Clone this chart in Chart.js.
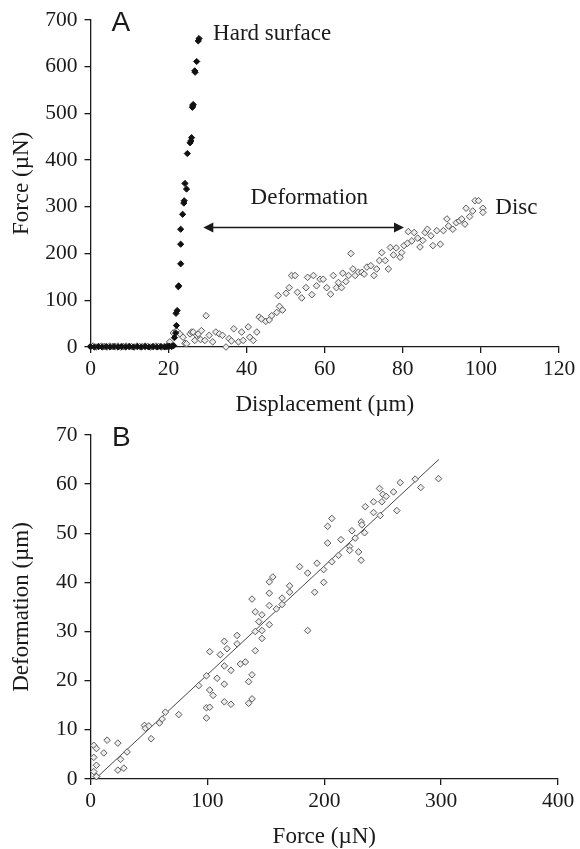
<!DOCTYPE html>
<html>
<head>
<meta charset="utf-8">
<script src="https://cdn.jsdelivr.net/npm/chart.js@4.4.0/dist/chart.umd.min.js"></script>
<style>
    html, body { margin: 0; padding: 0; background: #fff; width: 580px; height: 849px; overflow: hidden; }
    canvas { position: absolute; left: 0; }
    #chart-a { top: 0; }
    #chart-b { top: 415px; }
</style>
</head>
<body>
<canvas id="chart-a" width="580" height="422"></canvas>
<canvas id="chart-b" width="580" height="436"></canvas>
<script>
// Panel A - hard surface (filled) vs disc (hollow), displacement in um / force in uN
const hardX = [0, 1, 2, 3, 4, 5, 6, 7, 8, 9, 10, 11, 12, 13, 14, 15, 16, 17, 18, 19, 19.6, 20.2, 20.8, 21.3,
    21.5, 21.8, 22.0, 21.9, 22.2, 22.5, 22.6, 23.1, 23.1, 23.1, 23.6, 23.9, 24.0, 24.6, 24.2, 24.8,
    25.5, 25.7, 25.9, 26.1, 26.2, 26.3, 26.7, 26.8, 27.2, 27.6, 27.8];
const hardY = [1, 0, 1, 0, 1, 0, 1, 0, 1, 0, 1, 0, 1, 0, 1, 0, 1, 0, 1, 0, 1, 2, 1, 3,
    20, 30, 46, 72, 78, 129, 131, 178, 220, 252, 284, 308, 313, 338, 350, 414,
    437, 441, 448, 513, 516, 519, 591, 588, 611, 655, 660];

const discX = [0, 0.7, 1.4, 2.1, 2.8, 3.5, 4.2, 4.9, 5.6, 6.3, 7.0, 7.7, 8.4, 9.1, 9.8, 10.5, 11.2, 11.9,
    12.6, 13.3, 14.0, 14.7, 15.4, 16.1, 16.8, 17.5, 18.2, 18.9, 19.6,
    20.3, 21.2, 22.0, 22.9, 23.7, 24.2, 24.6, 25.5, 25.9, 26.3, 26.7, 27.2, 27.6, 28.2, 28.4, 29.3,
    29.6, 30.4, 31.3, 32.1, 33.0, 33.8, 34.7, 35.5, 36.1, 36.7, 37.9, 38.7, 39.1, 40.4, 40.8, 41.7,
    42.6, 43.2, 43.8, 44.9, 45.8, 46.4, 47.7, 48.1, 48.4, 49.2, 50.1, 50.9, 51.5, 52.4, 53.0, 54.1,
    55.2, 55.6, 56.7, 57.1, 57.9, 58.8, 59.6, 60.5, 61.5, 62.2, 63.0, 63.5, 64.3, 64.6, 65.4, 66.1,
    66.7, 67.2, 67.8, 68.6, 69.5, 70.1, 70.8, 71.8, 72.6, 73.3, 74.0, 74.6, 75.5, 76.3, 76.8, 77.6,
    78.3, 79.3, 79.7, 80.3, 81.2, 81.4, 82.3, 82.9, 83.8, 84.4, 85.1, 85.7, 86.3, 87.2, 87.7, 88.7,
    89.6, 90.4, 91.3, 91.7, 92.8, 93.7, 94.5, 95.1, 95.9, 96.2, 97.1, 97.9, 98.5, 99.4, 100.5, 100.5];
const discY = [1, 2, 0, 1, 2, 1, 0, 2, 1, 1, 2, 0, 1, 2, 1, 1, 0, 2, 1, 1, 2, 1, 0, 1, 2, 1, 0, 1, 2,
    11, 30, 35, 28, 21, 8, 7, 28, 32, 32, 14, 25, 28, 16, 35, 14,
    67, 25, 11, 32, 28, 25, 0, 18, 13, 39, 11, 32, 14, 43, 21, 14,
    32, 64, 60, 55, 58, 67, 74, 110, 87, 79, 115, 127, 153, 153, 117, 105,
    127, 149, 112, 153, 131, 145, 145, 127, 113, 153, 127, 138, 127, 158, 140, 153,
    200, 167, 153, 160, 160, 156, 171, 174, 153, 167, 185, 202, 185, 167, 213, 197,
    212, 192, 202, 217, 222, 247, 227, 245, 233, 214, 228, 245, 252, 238, 217, 249,
    220, 249, 274, 259, 252, 266, 270, 274, 263, 297, 279, 291, 313, 313, 297, 288];

const dispTicks = [0, 20, 40, 60, 80, 100, 120];
const forceTicksA = [0, 100, 200, 300, 400, 500, 600, 700];

// Panel B - deformation (um) against force (uN)
const forceB = [5.1, 2.8, 5.1, 2.8, 5.1, 2.8, 5.1, 11.4, 14.2, 23.4, 23.4, 25.7, 28.5, 31.3,
    46.2, 47.0, 49.9, 51.9, 59.0, 61.3, 64.1, 75.5, 92.6, 99.2, 99.2, 99.2, 102, 102, 104.9, 102,
    108.3, 111, 114.5, 116.8, 114.5, 114.5, 114.5, 120.2, 120.2, 125.4, 125.4, 128.2, 132.5,
    135.3, 135.3, 138.2, 138.2, 138.2, 141, 141, 141, 144, 146.7, 146.7, 146.7, 153, 153, 156,
    153, 153, 159, 163.9, 163.9, 170.4, 170.4, 178.9, 185.8, 185.8, 191.8, 193.8, 199.5, 199.5,
    202.9, 202.9, 206.5, 206.5, 212.2, 214.3, 221.7, 221.7, 223.7, 226.5, 229.4, 231.6, 231.6,
    232.2, 234.5, 235.1, 242.2, 242.2, 247.3, 247.9, 249.3, 250.1, 253, 259.3, 262.1, 265,
    277.8, 282.6, 297.8];
const deformB = [0.5, 6.85, 6.2, 4.4, 2.8, 1.5, 0.5, 5.3, 7.9, 7.3, 1.8, 4.0, 2.2, 5.5,
    10.9, 10.3, 10.8, 8.2, 11.4, 12.2, 13.6, 13.1, 19.0, 21.0, 12.4, 14.5, 14.6, 18.1, 17.0, 25.9,
    20.5, 25.3, 28.0, 26.5, 23.0, 19.3, 15.7, 22.1, 15.2, 27.5, 29.2, 23.4, 23.8,
    19.8, 15.4, 21.2, 16.3, 36.6, 34.0, 26.1, 30.0, 32.0, 33.4, 30.2, 28.6, 37.8, 40.1, 41.1,
    35.3, 31.4, 34.6, 36.8, 35.5, 38.0, 39.3, 43.2, 41.9, 30.2, 38.0, 43.9, 42.6, 40.0,
    48.0, 51.4, 53.0, 44.2, 45.5, 48.7, 47.3, 46.5, 50.5, 49.0, 46.2, 44.5, 52.3,
    51.7, 50.1, 55.4, 56.4, 54.2, 59.1, 53.6, 56.4, 57.9, 57.5, 58.4, 54.6, 60.3,
    61.0, 59.3, 61.1];
const fitX = [4, 298];
const fitY = [0, 65];

const forceTicksB = [0, 100, 200, 300, 400];
const deformTicks = [0, 10, 20, 30, 40, 50, 60, 70];

const SERIF = "'Liberation Serif', 'Times New Roman', serif";
const SANS = "'Liberation Sans', Arial, sans-serif";
const INK = '#1a1a1a';

const toPoints = (xs, ys) => xs.map((x, i) => ({ x, y: ys[i] }));

/**
 * Annotation plugin: text labels and double-headed arrows in data coordinates
 */
const notesPlugin = {
    id: 'notes',
    afterDatasetsDraw(chart, args, opts) {
        const { ctx, scales: { x, y } } = chart;
        ctx.save();
        ctx.fillStyle = INK;
        ctx.strokeStyle = INK;
        (opts.labels || []).forEach(l => {
            ctx.font = l.font;
            ctx.textAlign = 'left';
            ctx.textBaseline = 'alphabetic';
            ctx.fillText(l.text, x.getPixelForValue(l.x), y.getPixelForValue(l.y));
        });
        (opts.arrows || []).forEach(a => {
            const x1 = x.getPixelForValue(a.x1);
            const x2 = x.getPixelForValue(a.x2);
            const yy = y.getPixelForValue(a.y);
            const head = 10, half = 5;
            ctx.lineWidth = 1.6;
            ctx.beginPath();
            ctx.moveTo(x1 + head - 1, yy);
            ctx.lineTo(x2 - head + 1, yy);
            ctx.stroke();
            ctx.beginPath();
            ctx.moveTo(x1, yy);
            ctx.lineTo(x1 + head, yy - half);
            ctx.lineTo(x1 + head, yy + half);
            ctx.closePath();
            ctx.fill();
            ctx.beginPath();
            ctx.moveTo(x2, yy);
            ctx.lineTo(x2 - head, yy - half);
            ctx.lineTo(x2 - head, yy + half);
            ctx.closePath();
            ctx.fill();
        });
        ctx.restore();
    }
};

// Shared axis look: only the axis line and outward tick marks
const axisBase = (ticks, title, titlePadding) => ({
    type: 'linear',
    min: ticks[0],
    max: ticks[ticks.length - 1],
    afterBuildTicks: (scale) => { scale.ticks = ticks.map(v => ({ value: v })); },
    border: { display: true, color: INK, width: 1.3 },
    grid: { display: true, drawOnChartArea: false, drawTicks: true, tickLength: 6, color: INK, lineWidth: 1.3 },
    ticks: { color: INK, font: { family: SERIF, size: 21.5 }, maxRotation: 0, autoSkip: false },
    title: { display: true, text: title, color: INK, font: { family: SERIF, size: 23 }, padding: titlePadding }
});

const buildOptions = (xTicks, yTicks, xTitle, yTitle, xHeight, xTitlePad, padRight, padTop, notes) => {
    const xAxis = axisBase(xTicks, xTitle, { top: 0, bottom: xTitlePad });
    xAxis.ticks.padding = 3;
    xAxis.afterFit = (scale) => { scale.height = xHeight; };
    const yAxis = axisBase(yTicks, yTitle, { top: 8, bottom: 0 });
    yAxis.ticks.padding = 7;
    yAxis.afterFit = (scale) => { scale.width = 90.5; };
    return {
        responsive: false,
        animation: false,
        layout: { padding: { top: padTop, right: padRight, bottom: 0, left: 0 } },
        plugins: {
            legend: { display: false },
            tooltip: { enabled: false },
            notes
        },
        scales: { x: xAxis, y: yAxis }
    };
};

new Chart(document.getElementById('chart-a').getContext('2d'), {
    type: 'scatter',
    data: {
        datasets: [
            {
                label: 'Hard surface',
                data: toPoints(hardX, hardY),
                pointStyle: 'rectRot',
                pointRadius: 3.1,
                backgroundColor: '#111',
                borderColor: '#111',
                borderWidth: 1,
                clip: 10
            },
            {
                label: 'Disc',
                data: toPoints(discX, discY),
                pointStyle: 'rectRot',
                pointRadius: 3.3,
                backgroundColor: '#ececec',
                borderColor: '#5a5a5a',
                borderWidth: 1,
                clip: 10
            }
        ]
    },
    options: buildOptions(dispTicks, forceTicksA, 'Displacement (\u00b5m)', 'Force (\u00b5N)', 75, 3, 21, 18, {
        labels: [
            { text: 'A', x: 5.4, y: 676, font: `28px ${SANS}` },
            { text: 'Hard surface', x: 31.4, y: 657, font: `23px ${SERIF}` },
            { text: 'Deformation', x: 41.0, y: 307, font: `23px ${SERIF}` },
            { text: 'Disc', x: 103.7, y: 285, font: `23px ${SERIF}` }
        ],
        arrows: [{ x1: 28.9, x2: 80.3, y: 255.6 }]
    }),
    plugins: [notesPlugin]
});

new Chart(document.getElementById('chart-b').getContext('2d'), {
    type: 'scatter',
    data: {
        datasets: [
            {
                label: 'Disc',
                data: toPoints(forceB, deformB),
                pointStyle: 'rectRot',
                pointRadius: 3.3,
                backgroundColor: '#ececec',
                borderColor: '#5a5a5a',
                borderWidth: 1,
                clip: 10
            },
            {
                label: 'Fit',
                data: toPoints(fitX, fitY),
                showLine: true,
                borderColor: '#333',
                borderWidth: 0.9,
                pointRadius: 0
            }
        ]
    },
    options: buildOptions(forceTicksB, deformTicks, 'Force (\u00b5N)', 'Deformation (\u00b5m)', 72, 0, 22, 17, {
        labels: [
            { text: 'B', x: 18.5, y: 67.7, font: `28px ${SANS}` }
        ]
    }),
    plugins: [notesPlugin]
});
</script>
</body>
</html>
